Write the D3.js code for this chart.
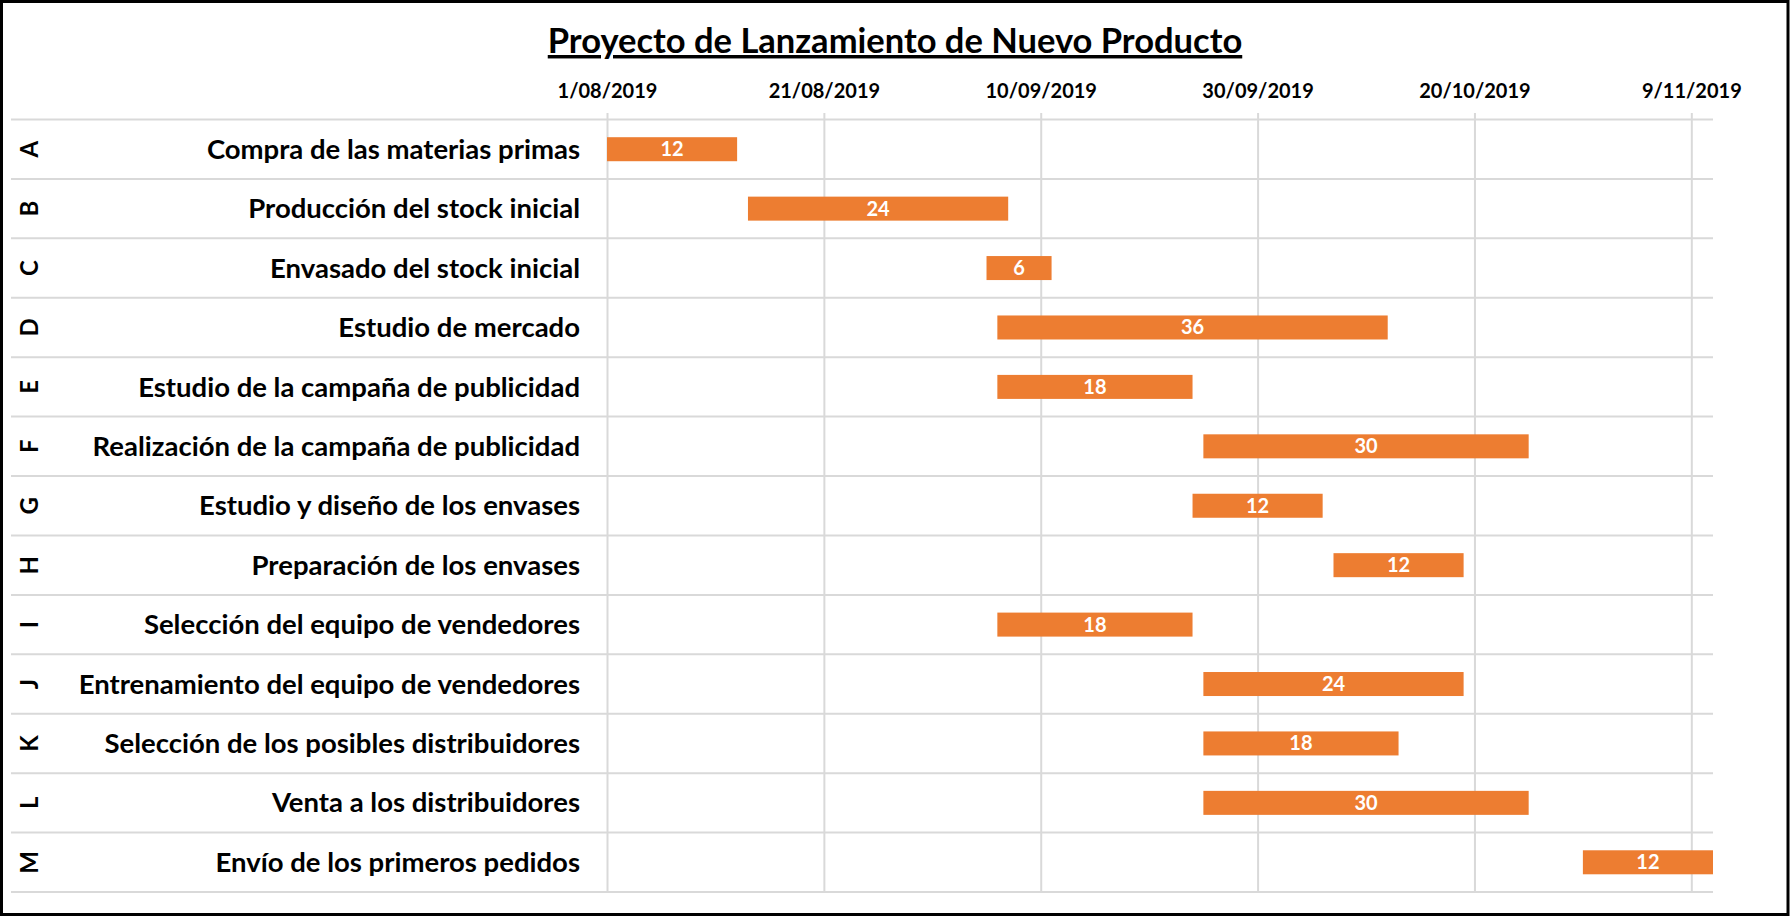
<!DOCTYPE html>
<html>
<head>
<meta charset="utf-8">
<script src="https://cdn.jsdelivr.net/npm/d3@7"></script>
<style>
  body { margin: 0; background: #fff; }
  svg { display: block; font-family: Lato, 'Open Sans', sans-serif; font-weight: bold; }
</style>
</head>
<body>
<svg id="chart" width="1790" height="916"></svg>
<script>
// Task codes, names, start dates and durations (days)
const codes = ['A', 'B', 'C', 'D', 'E', 'F', 'G', 'H', 'I', 'J', 'K', 'L', 'M'];
const taskNames = [
  'Compra de las materias primas',
  'Producción del stock inicial',
  'Envasado del stock inicial',
  'Estudio de mercado',
  'Estudio de la campaña de publicidad',
  'Realización de la campaña de publicidad',
  'Estudio y diseño de los envases',
  'Preparación de los envases',
  'Selección del equipo de vendedores',
  'Entrenamiento del equipo de vendedores',
  'Selección de los posibles distribuidores',
  'Venta a los distribuidores',
  'Envío de los primeros pedidos'
];
const startDates = ['2019-08-01', '2019-08-14', '2019-09-05', '2019-09-06', '2019-09-06',
  '2019-09-25', '2019-09-24', '2019-10-07', '2019-09-06', '2019-09-25', '2019-09-25',
  '2019-09-25', '2019-10-30'];
const durations = [12, 24, 6, 36, 18, 30, 12, 12, 18, 24, 18, 30, 12];
const tickLabels = ['1/08/2019', '21/08/2019', '10/09/2019', '30/09/2019', '20/10/2019', '9/11/2019'];
const axisRange = ['2019-08-01', '2019-11-11'];

const parseISO = d3.utcParse('%Y-%m-%d');
const parseTick = d3.utcParse('%d/%m/%Y');
const dayMs = 24 * 3600 * 1000;

const tasks = codes.map((c, i) => {
  let start = parseISO(startDates[i]);
  return {
    code: c,
    name: taskNames[i],
    start: start,
    end: new Date(start.getTime() + durations[i] * dayMs),
    dur: durations[i]
  };
});

const svg = d3.select('#chart');
const plot = {left: 607, right: 1713, top: 119.5, bottom: 892};

svg.append('rect')
  .attr('width', 1790).attr('height', 916)
  .style('fill', '#fff');

// Title
svg.append('text')
  .attr('x', 895)
  .attr('y', 53)
  .style('text-anchor', 'middle')
  .style('font-size', '34.5px')
  .style('text-decoration', 'underline')
  .text('Proyecto de Lanzamiento de Nuevo Producto');

let x = d3.scaleUtc()
  .domain(axisRange.map(parseISO))
  .range([plot.left, plot.right]);

let y = d3.scaleBand()
  .domain(codes)
  .range([plot.top, plot.bottom]);

// Vertical gridlines + top date labels
let axisG = svg.append('g')
  .attr('transform', `translate(0, 113)`)
  .call(d3.axisTop(x)
    .tickValues(tickLabels.map(parseTick))
    .tickFormat((d, i) => tickLabels[i])
    .tickSize(-(plot.bottom - 113))
    .tickPadding(15));
axisG.select('.domain').remove();
axisG.selectAll('line')
  .style('stroke', '#d9d9d9')
  .style('stroke-width', 2);
axisG.selectAll('text')
  .style('font-family', 'Lato, sans-serif')
  .style('font-weight', 'bold')
  .style('font-size', '20px')
  .style('fill', '#000');

// Horizontal row separators
let rowEdges = codes.map(c => y(c)).concat([plot.bottom]);
svg.append('g')
  .selectAll('line')
  .data(rowEdges)
  .join('line')
  .attr('x1', 11)
  .attr('x2', plot.right)
  .attr('y1', d => d)
  .attr('y2', d => d)
  .style('stroke', '#d9d9d9')
  .style('stroke-width', 2);

// Row labels
let rows = svg.append('g')
  .selectAll('g')
  .data(tasks)
  .join('g')
  .attr('transform', d => `translate(0, ${y(d.code) + y.bandwidth() / 2})`);

rows.append('text')
  .attr('x', 580)
  .attr('dy', '0.35em')
  .style('text-anchor', 'end')
  .style('font-size', '27.5px')
  .text(d => d.name);

rows.append('text')
  .attr('transform', 'translate(30, 0) rotate(-90)')
  .attr('dy', '0.35em')
  .style('text-anchor', 'middle')
  .style('font-size', '24px')
  .text(d => d.code);

// Bars
const barH = y.bandwidth() * 0.404;
let bars = svg.append('g')
  .selectAll('g')
  .data(tasks)
  .join('g');

bars.append('rect')
  .attr('x', d => x(d.start))
  .attr('y', d => y(d.code) + (y.bandwidth() - barH) / 2)
  .attr('width', d => Math.min(x(d.end), plot.right) - x(d.start))
  .attr('height', barH)
  .style('fill', '#ED7D31');

bars.append('text')
  .attr('x', d => (x(d.start) + Math.min(x(d.end), plot.right)) / 2)
  .attr('y', d => y(d.code) + y.bandwidth() / 2)
  .attr('dy', '0.35em')
  .style('text-anchor', 'middle')
  .style('font-size', '20px')
  .style('fill', '#fff')
  .text(d => d.dur);

// Outer frame
svg.append('rect')
  .attr('x', 1.5).attr('y', 1.5)
  .attr('width', 1786.5).attr('height', 913)
  .style('fill', 'none')
  .style('stroke', '#000')
  .style('stroke-width', 3);
</script>
</body>
</html>
